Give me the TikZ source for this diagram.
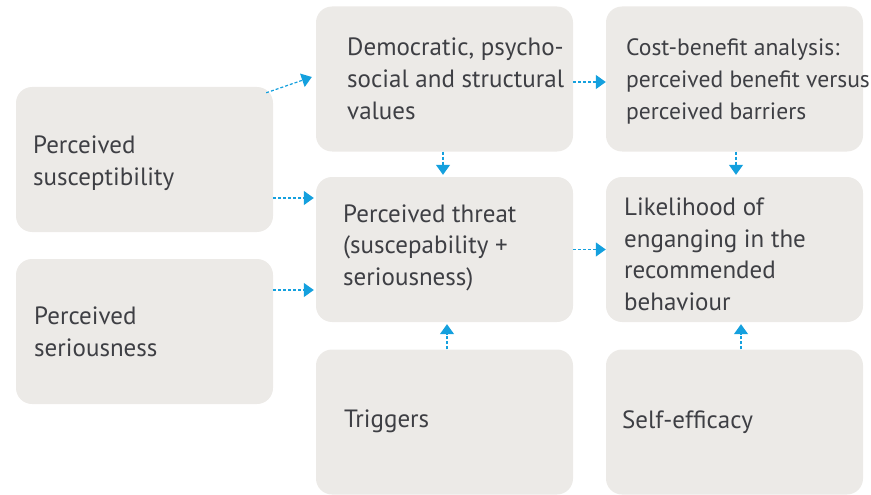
\documentclass[tikz,border=0pt]{standalone}
\usepackage{fontspec}
\setmainfont{PT Sans}
\usetikzlibrary{arrows.meta}
\definecolor{boxfill}{RGB}{236,234,231}
\definecolor{txtcol}{RGB}{62,63,68}
\definecolor{arrcol}{RGB}{20,160,222}
\begin{document}
\begin{tikzpicture}[x=1pt,y=-1pt,
  card/.style={draw=none,fill=boxfill,rounded corners=16pt,inner sep=0pt,
    minimum width=257pt,minimum height=145pt},
  lbl/.style={anchor=base west,inner sep=0pt,align=left,text=txtcol,
    font=\fontsize{25pt}{31.5pt}\selectfont},
  arr/.style={draw=arrcol,line width=1.2pt,dash pattern=on 3pt off 2pt,
    -{Triangle[length=10pt,width=14pt,fill=arrcol]}}]
\useasboundingbox (0,0) rectangle (871,495);
% boxes
\node[card] (sus) at (144.5,159.5) {};
\node[card] (ser) at (144.5,331.5) {};
\node[card] (dem) at (444.5,79) {};
\node[card] (thr) at (444.5,249.5) {};
\node[card] (trg) at (444.5,422) {};
\node[card] (cba) at (734.5,79) {};
\node[card] (lik) at (734.5,249.5) {};
\node[card] (sef) at (734.5,422) {};
% texts (anchored at the baseline of the last line)
\node[lbl] (tsus) at (33,185) {Perceived\\susceptibility};
\node[lbl] (tser) at (34,356) {Perceived\\seriousness};
\node[lbl] (tdem) at (347,119) {Democratic, psycho-\\social and structural\\values};
\node[lbl] (tthr) at (343,285) {Perceived threat\\(suscepability +\\seriousness)};
\node[lbl] (ttrg) at (344,427) {Triggers};
\node[lbl,font=\fontsize{23.6pt}{31.5pt}\selectfont] (tcba) at (626,119) {Cost-benefit analysis:\\perceived benefit versus\\perceived barriers};
\node[lbl] (tlik) at (624,310) {Likelihood of\\enganging in the\\recommended\\behaviour};
\node[lbl] (tsef) at (622,428) {Self-efficacy};
% arrows
\draw[arr] ([xshift=-7pt,yshift=-6pt]sus.north east) -- ([xshift=-4pt,yshift=2pt]dem.west);
\draw[arr] ([yshift=-38.5pt]sus.east) -- ([xshift=-2pt,yshift=51.5pt]thr.west);
\draw[arr] ([yshift=41.5pt]ser.east) -- ([xshift=-2pt,yshift=-40.5pt]thr.west);
\draw[arr] ([xshift=-1.5pt]dem.south) -- ([xshift=-1.5pt,yshift=2pt]thr.north);
\draw[arr] ([yshift=-3pt]dem.east) -- ([yshift=-3pt]cba.west);
\draw[arr] (thr.east) -- (lik.west);
\draw[arr] ([xshift=2.5pt]trg.north) -- ([xshift=2.5pt,yshift=-2pt]thr.south);
\draw[arr] ([xshift=1.5pt]cba.south) -- ([xshift=1.5pt,yshift=2pt]lik.north);
\draw[arr] ([xshift=6.5pt]sef.north) -- ([xshift=6.5pt,yshift=-2pt]lik.south);
\end{tikzpicture}
\end{document}
